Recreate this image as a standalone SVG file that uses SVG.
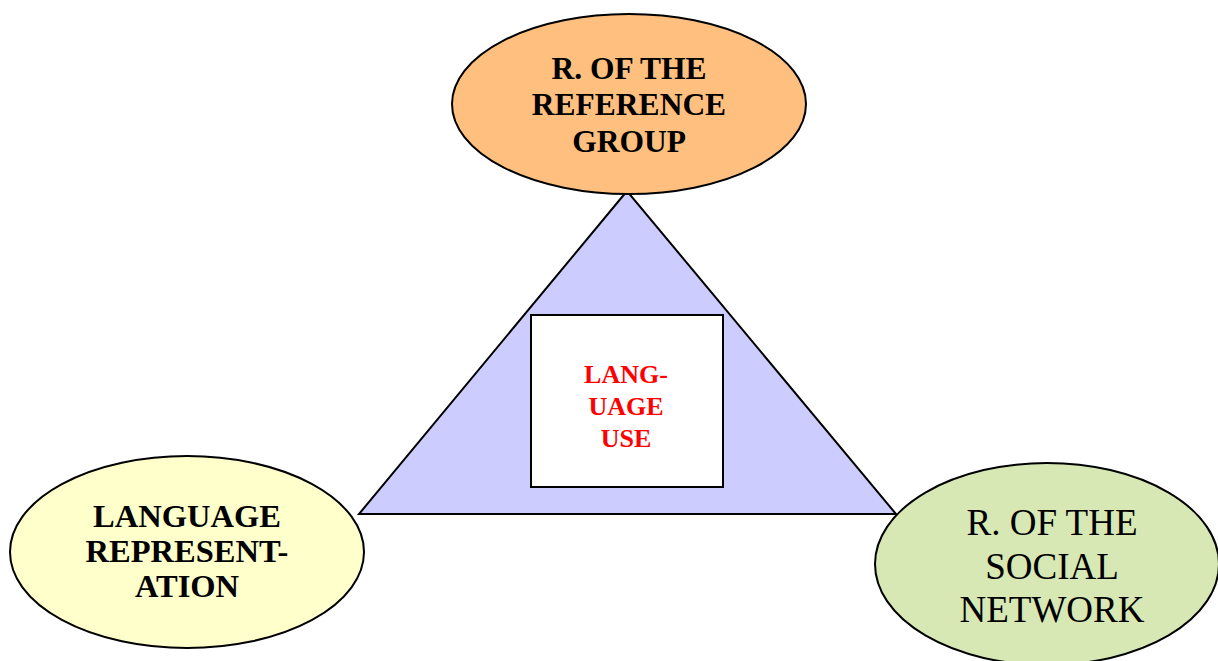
<svg xmlns="http://www.w3.org/2000/svg" width="1218" height="661" viewBox="0 0 1218 661">
<style>
.sh{stroke:#000;stroke-width:2}
.b{font-family:"Liberation Serif","Times New Roman",serif;font-weight:bold;text-anchor:middle;fill:#000}
.r{font-family:"Liberation Serif","Times New Roman",serif;text-anchor:middle;fill:#000}
</style>
<rect width="1218" height="661" fill="#fff"/>
<g id="connectors">
<polygon id="triangle" class="sh" fill="#CCCCFF" points="627,191 359,514 896,514"/>
</g>
<g id="use">
<rect class="sh" x="531" y="315" width="192" height="172" fill="#fff"/>
<text class="b" font-size="26" style="fill:#FF0000"><tspan x="626" y="383">LANG-</tspan><tspan x="626" y="415">UAGE</tspan><tspan x="626" y="447">USE</tspan></text>
</g>
<g id="reference">
<ellipse class="sh" cx="629" cy="104" rx="177" ry="90" fill="#FFBF7F"/>
<text class="b" font-size="31.5"><tspan x="629" y="79">R. OF THE</tspan><tspan x="629" y="115">REFERENCE</tspan><tspan x="629" y="152">GROUP</tspan></text>
</g>
<g id="representation">
<ellipse class="sh" cx="187" cy="552" rx="177" ry="96" fill="#FFFFCC"/>
<text class="b" font-size="32.5"><tspan x="187" y="527">LANGUAGE</tspan><tspan x="187" y="562">REPRESENT-</tspan><tspan x="187" y="597">ATION</tspan></text>
</g>
<g id="social">
<ellipse class="sh" cx="1047" cy="564" rx="172" ry="101" fill="#D7E8B5"/>
<text class="r" font-size="37"><tspan x="1052" y="535">R. OF THE</tspan><tspan x="1052" y="579">SOCIAL</tspan><tspan x="1052" y="622">NETWORK</tspan></text>
</g>
</svg>
